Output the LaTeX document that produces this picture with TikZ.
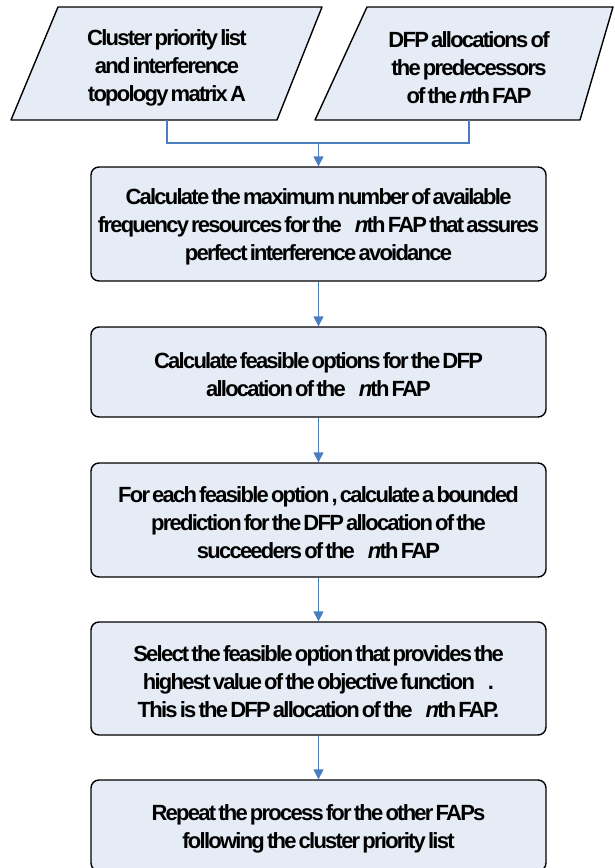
\documentclass[tikz,border=0pt]{standalone}
\usepackage{fontspec}
\setmainfont{Liberation Sans}[LetterSpace=-8, WordSpace=0.5]
\usetikzlibrary{arrows.meta}
\definecolor{boxfill}{RGB}{230,236,246}
\definecolor{linkblue}{RGB}{74,126,193}
\newcommand{\nth}{\textit{n}th}
\newcommand{\gapn}{\hspace{13pt}}
\begin{document}
\begin{tikzpicture}[x=1pt,y=-1pt,
  txt/.style={font=\bfseries\fontsize{22}{28}\selectfont, align=center, text=black},
  shapeline/.style={draw=black, line width=1.4pt, fill=boxfill, line join=round},
  stepbox/.style={shapeline, rounded corners=8pt, minimum width=455pt, inner sep=0pt},
  link/.style={draw=linkblue, line width=1.5pt},
  arr/.style={link, -{Triangle[width=10pt,length=10pt]}}
]
\useasboundingbox (0,0) rectangle (615,868);
\clip (0,0) rectangle (615,868);
% input parallelograms
\draw[shapeline] (58,7) -- (322,7) -- (277,120) -- (11,120) -- cycle;
\draw[shapeline] (367,7) -- (613,7) -- (580,120) -- (315,120) -- cycle;
\node[txt] (p1) at (167,68) {Cluster priority list\\and interference\\topology matrix A};
\node[txt] (p2) at (469,68) {DFP allocations of\\the predecessors\\of the \nth{} FAP};
\coordinate (p1b) at (167,120);
\coordinate (p2b) at (469,120);
\coordinate (j1) at (167,143);
\coordinate (j2) at (469,143);
\coordinate (jm) at (318.5,143);
% process boxes
\node[stepbox, minimum height=114pt] (b1) at (318.5,224) {};
\node[stepbox, minimum height=90pt] (b2) at (318.5,372) {};
\node[stepbox, minimum height=114pt] (b3) at (318.5,520) {};
\node[stepbox, minimum height=113pt] (b4) at (318.5,678.5) {};
\node[stepbox, minimum height=91pt] (b5) at (318.5,825.5) {};
\node[txt] (t1) at (318.5,227) {Calculate the maximum number of available\\frequency resources for the\gapn\nth{} FAP that assures\\perfect interference avoidance};
\node[txt] (t2) at (318.5,375) {Calculate feasible options for the DFP\\allocation of the\gapn\nth{} FAP};
\node[txt] (t3) at (318.5,523) {For each feasible option , calculate a bounded\\prediction for the DFP allocation of the\\succeeders of the\gapn\nth{} FAP};
\node[txt] (t4) at (318.5,681.5) {Select the feasible option that provides the\\highest value of the objective function\gapn.\\This is the DFP allocation of the\gapn\nth{} FAP.};
\node[txt] (t5) at (318.5,828.5) {Repeat the process for the other FAPs\\following the cluster priority list};
% connectors
\draw[link] (p1b) -- (j1) -- (j2) -- (p2b);
\draw[arr] (jm) -- (b1.north);
\draw[arr] (b1.south) -- (b2.north);
\draw[arr] (b2.south) -- (b3.north);
\draw[arr] (b3.south) -- (b4.north);
\draw[arr] (b4.south) -- (b5.north);
\end{tikzpicture}
\end{document}
